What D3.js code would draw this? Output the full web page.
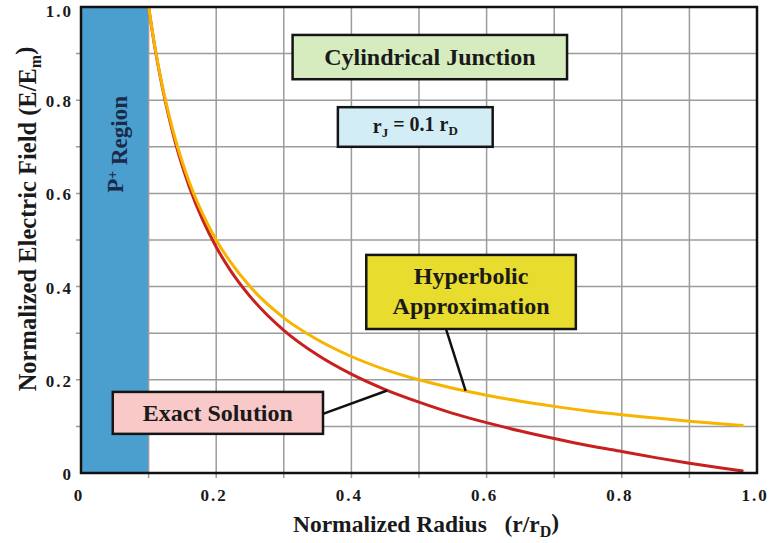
<!DOCTYPE html>
<html>
<head>
<meta charset="utf-8">
<script src="https://cdn.jsdelivr.net/npm/d3@7"></script>
<style>
  body { margin: 0; background: #fff; }
</style>
</head>
<body>
<div id="chart"></div>
<script>
// values
const radius = [0.10, 0.11, 0.12, 0.13, 0.14, 0.15, 0.16, 0.18, 0.20, 0.22, 0.25, 0.30, 0.35, 0.40, 0.45, 0.50, 0.55, 0.60, 0.65, 0.70, 0.75, 0.80, 0.85, 0.90, 0.95, 0.98];
const exactField = [1.000, 0.907, 0.830, 0.764, 0.707, 0.658, 0.615, 0.543, 0.485, 0.437, 0.379, 0.306, 0.253, 0.212, 0.179, 0.152, 0.128, 0.108, 0.090, 0.074, 0.059, 0.046, 0.033, 0.021, 0.010, 0.004];
const hyperField = [1.000, 0.909, 0.833, 0.769, 0.714, 0.667, 0.625, 0.556, 0.500, 0.455, 0.400, 0.333, 0.286, 0.250, 0.222, 0.200, 0.182, 0.167, 0.154, 0.143, 0.133, 0.125, 0.118, 0.111, 0.105, 0.102];
const xTickLabels = [0, 0.2, 0.4, 0.6, 0.8, 1.0];
const yTickLabels = [0, 0.2, 0.4, 0.6, 0.8, 1.0];
const pRegion = [0, 0.1];

const width = 773, height = 543;
const margin = {top: 7, right: 16, bottom: 70, left: 81};

const svg = d3.select("#chart").append("svg")
    .attr("width", width)
    .attr("height", height);

const x = d3.scaleLinear().domain([0, 1]).range([margin.left, width - margin.right]);
const y = d3.scaleLinear().domain([0, 1]).range([height - margin.bottom, margin.top]);

const grid = d3.range(1, 10).map(i => i / 10);

// P+ region
svg.append("rect")
    .attr("x", x(pRegion[0]))
    .attr("y", y(1))
    .attr("width", x(pRegion[1]) - x(pRegion[0]))
    .attr("height", y(0) - y(1))
    .attr("fill", "#4b9fcf");

// grid lines (with ticks sticking out past the axes)
svg.append("g")
    .selectAll("line")
    .data(grid)
    .join("line")
    .attr("x1", d => x(d)).attr("x2", d => x(d))
    .attr("y1", y(1)).attr("y2", y(0) + 5)
    .attr("stroke", "#9c9c9c")
    .attr("stroke-width", 1.5);

svg.append("g")
    .selectAll("line")
    .data(grid)
    .join("line")
    .attr("x1", x(0) - 5).attr("x2", x(1))
    .attr("y1", d => y(d)).attr("y2", d => y(d))
    .attr("stroke", "#9c9c9c")
    .attr("stroke-width", 1.5);

// redraw the blue over the interior grid lines of the region
svg.append("rect")
    .attr("x", x(pRegion[0]))
    .attr("y", y(1))
    .attr("width", x(pRegion[1]) - x(pRegion[0]) - 1)
    .attr("height", y(0) - y(1))
    .attr("fill", "#4b9fcf");

const pText = svg.append("text")
    .attr("transform", `translate(${x(0.05) + 8},${y(0.705)}) rotate(-90)`)
    .attr("text-anchor", "middle")
    .attr("font-size", 23)
    .attr("fill", "#1b2a48");
pText.append("tspan").text("P");
pText.append("tspan").attr("dy", "-0.45em").attr("font-size", 14).text("+");
pText.append("tspan").attr("dy", "0.45em").text(" Region");

// curves
const line = d3.line()
    .x((d, i) => x(radius[i]))
    .y(d => y(d))
    .curve(d3.curveMonotoneX);

svg.append("path")
    .datum(exactField)
    .attr("d", line)
    .attr("fill", "none")
    .attr("stroke", "#c8201e")
    .attr("stroke-width", 3);

svg.append("path")
    .datum(hyperField)
    .attr("d", line)
    .attr("fill", "none")
    .attr("stroke", "#f7b400")
    .attr("stroke-width", 3);

// frame
svg.append("rect")
    .attr("x", x(0)).attr("y", y(1))
    .attr("width", x(1) - x(0)).attr("height", y(0) - y(1))
    .attr("fill", "none")
    .attr("stroke", "#111")
    .attr("stroke-width", 2.5);

// tick labels
svg.append("g")
    .selectAll("text")
    .data(xTickLabels)
    .join("text")
    .attr("x", d => x(d) - 2)
    .attr("y", y(0) + 28)
    .attr("text-anchor", "middle")
    .attr("font-size", 17)
    .attr("letter-spacing", 2)
    .text(d => d === 0 ? "0" : d3.format(".1f")(d));

svg.append("g")
    .selectAll("text")
    .data(yTickLabels)
    .join("text")
    .attr("x", x(0) - 8)
    .attr("y", d => y(d) + (d === 1 ? 10 : 7))
    .attr("text-anchor", "end")
    .attr("font-size", 17)
    .attr("letter-spacing", 2)
    .text(d => d === 0 ? "0" : d3.format(".1f")(d));

// axis titles
const xt = svg.append("text")
    .attr("x", 426)
    .attr("y", 532)
    .attr("text-anchor", "middle")
    .attr("font-size", 23.5)
    .style("white-space", "pre");
xt.append("tspan").text("Normalized Radius   (r/r");
xt.append("tspan").attr("dy", "0.3em").attr("font-size", 16).text("D");
xt.append("tspan").attr("dy", "-0.3em").text(")");

const yt = svg.append("text")
    .attr("transform", "translate(36,219) rotate(-90)")
    .attr("text-anchor", "middle")
    .attr("font-size", 24.5);
yt.append("tspan").text("Normalized Electric Field (E/E");
yt.append("tspan").attr("dy", "0.3em").attr("font-size", 16).text("m");
yt.append("tspan").attr("dy", "-0.3em").text(")");

// annotation boxes
function box(x0, x1, y0, y1, fill) {
    svg.append("rect")
        .attr("x", x(x0)).attr("y", y(y0))
        .attr("width", x(x1) - x(x0)).attr("height", y(y1) - y(y0))
        .attr("fill", fill)
        .attr("stroke", "#151515")
        .attr("stroke-width", 2.5);
}

// leader lines
svg.append("line")
    .attr("x1", x(0.540)).attr("y1", y(0.309))
    .attr("x2", x(0.569)).attr("y2", y(0.176))
    .attr("stroke", "#111").attr("stroke-width", 2.5);
svg.append("line")
    .attr("x1", x(0.358)).attr("y1", y(0.127))
    .attr("x2", x(0.453)).attr("y2", y(0.177))
    .attr("stroke", "#111").attr("stroke-width", 2.5);

box(0.313, 0.719, 0.940, 0.845, "#d6ecbf");
svg.append("text")
    .attr("x", x(0.516)).attr("y", y(0.8925) + 8)
    .attr("text-anchor", "middle")
    .attr("font-size", 24)
    .text("Cylindrical Junction");

box(0.380, 0.609, 0.785, 0.700, "#d3edf6");
const rj = svg.append("text")
    .attr("x", x(0.4945)).attr("y", y(0.7425) + 6)
    .attr("text-anchor", "middle")
    .attr("font-size", 20);
rj.append("tspan").text("r");
rj.append("tspan").attr("dy", "0.3em").attr("font-size", 13).text("J");
rj.append("tspan").attr("dy", "-0.3em").text(" = 0.1 r");
rj.append("tspan").attr("dy", "0.3em").attr("font-size", 13).text("D");

box(0.422, 0.732, 0.468, 0.309, "#e8dc2e");
svg.append("text")
    .attr("x", x(0.577)).attr("y", y(0.3885) - 8)
    .attr("text-anchor", "middle")
    .attr("font-size", 24)
    .text("Hyperbolic");
svg.append("text")
    .attr("x", x(0.577)).attr("y", y(0.3885) + 22)
    .attr("text-anchor", "middle")
    .attr("font-size", 24)
    .text("Approximation");

box(0.047, 0.358, 0.174, 0.084, "#f9c9c9");
svg.append("text")
    .attr("x", x(0.2025)).attr("y", y(0.129) + 8)
    .attr("text-anchor", "middle")
    .attr("font-size", 24)
    .text("Exact Solution");

// serif bold on every text
svg.selectAll("text")
    .attr("font-family", "Liberation Serif")
    .attr("font-weight", "bold")
    .attr("fill", function () { return this.getAttribute("fill") || "#1a1a1a"; });
</script>
</body>
</html>
